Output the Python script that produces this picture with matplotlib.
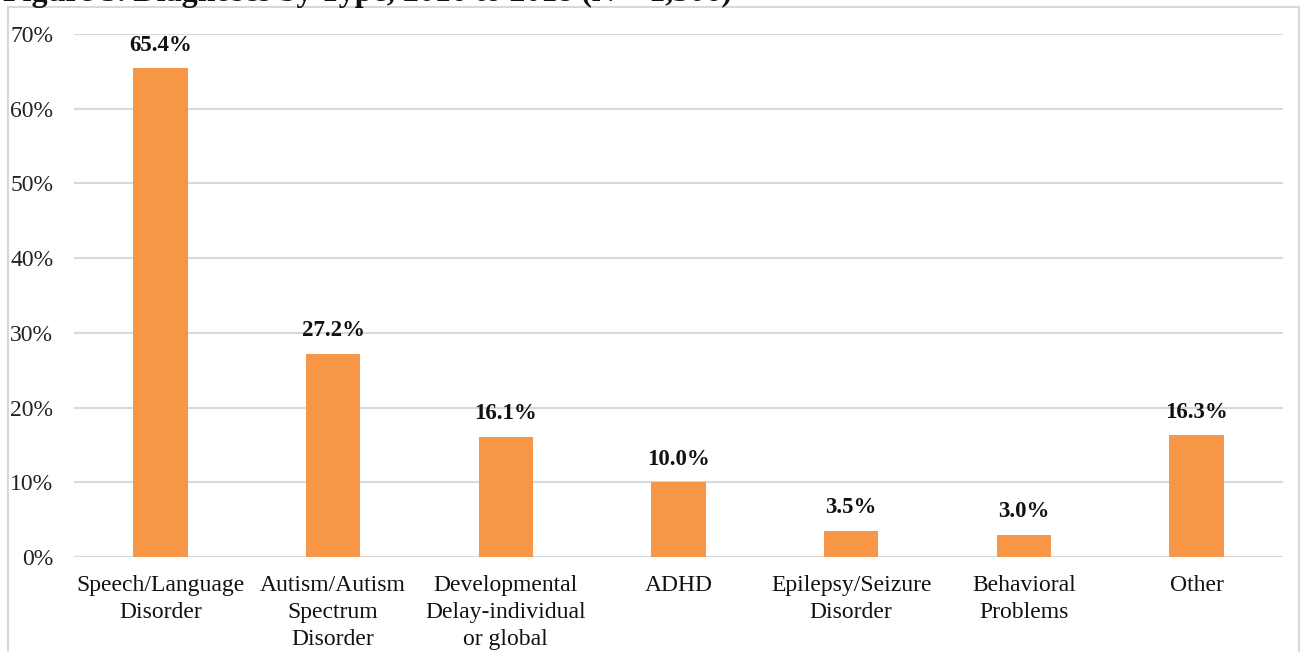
import matplotlib
matplotlib.use("Agg")
import matplotlib.pyplot as plt
from matplotlib.lines import Line2D

categories = ["Speech/Language\nDisorder", "Autism/Autism\nSpectrum\nDisorder",
              "Developmental\nDelay-individual\nor global", "ADHD",
              "Epilepsy/Seizure\nDisorder", "Behavioral\nProblems", "Other"]
values = [65.4, 27.2, 16.1, 10.0, 3.5, 3.0, 16.3]
yticks = [0, 10, 20, 30, 40, 50, 60, 70]
title = "Figure 3. Diagnoses by Type, 2016 to 2018 (N = 1,306)"

W, H = 1300, 652
fig = plt.figure(figsize=(W / 100, H / 100), dpi=100)
plt.rcParams['font.family'] = ['Liberation Serif', 'DejaVu Serif']

ax = fig.add_axes([74 / W, 1 - 557 / H, (1283 - 74) / W, (557 - 34) / H])
x = list(range(len(categories)))
ax.bar(x, values, width=0.315, color="#F79646", zorder=3)
ax.set_xlim(-0.5, len(categories) - 0.5)
ax.set_ylim(0, 70)
ax.set_yticks(yticks)
ax.set_yticklabels([f"{t}%" for t in yticks], fontsize=17, color="#222222")
ax.set_xticks(x)
ax.set_xticklabels(categories, fontsize=17, color="#111111", linespacing=1.38)
ax.tick_params(axis='both', length=0)
ax.tick_params(axis='x', pad=13)
ax.tick_params(axis='y', pad=15)
ax.grid(axis='y', color="#D9D9D9", linewidth=1.5, zorder=0)
for s in ax.spines.values():
    s.set_visible(False)
ax.axhline(0, color="#D9D9D9", linewidth=1.5, zorder=2)
for xi, v in zip(x, values):
    ax.annotate(f"{v:.1f}%", (xi, v), xytext=(0, 9), textcoords="offset points",
                ha="center", va="bottom", fontsize=16.5, fontweight="bold", color="#111111")

# outer frame
fc = "#D9D9D9"
fig.add_artist(Line2D([8 / W, 1299 / W], [1 - 7 / H, 1 - 7 / H], color=fc, lw=1.5, transform=fig.transFigure))
fig.add_artist(Line2D([8 / W, 8 / W], [0, 1 - 7 / H], color=fc, lw=1.5, transform=fig.transFigure))
fig.add_artist(Line2D([1299 / W, 1299 / W], [0, 1 - 7 / H], color=fc, lw=1.5, transform=fig.transFigure))

# title, clipped at the top edge as in the reference
fig.text(3 / W, 1 - 1.5 / H, title, fontsize=23, fontweight="bold", color="#111111",
         ha="left", va="baseline")

fig.savefig("out.png", dpi=100)
